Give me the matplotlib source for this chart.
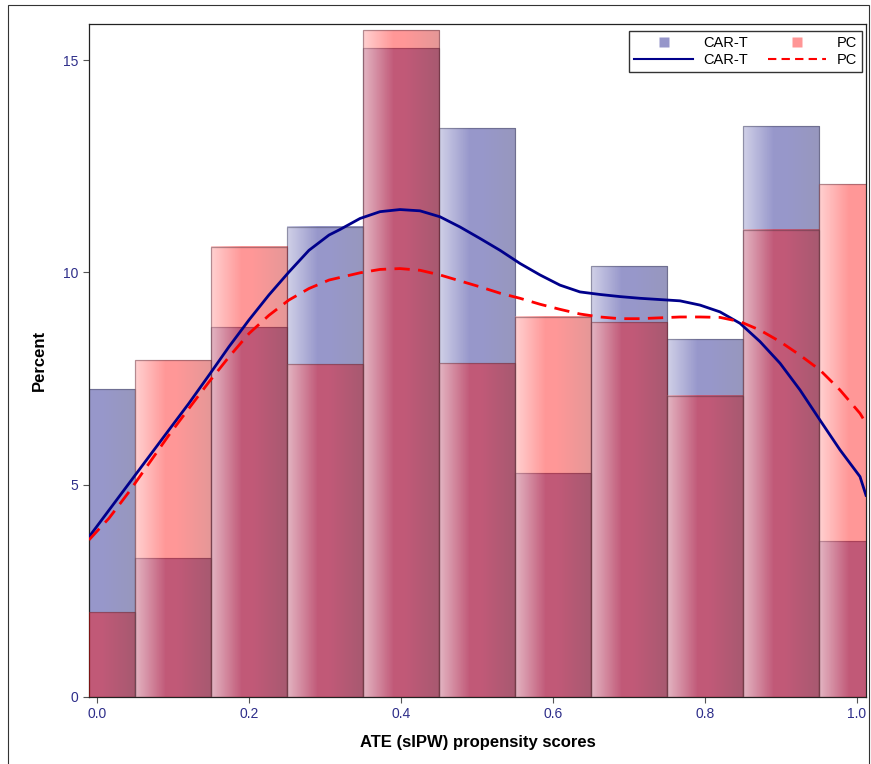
import numpy as np
import matplotlib
matplotlib.use("Agg")
import matplotlib.pyplot as plt
from matplotlib.patches import Rectangle
from matplotlib.lines import Line2D

plt.rcParams['font.family'] = ['Liberation Sans', 'DejaVu Sans']

# ---- data ----
bin_centers = [0.0, 0.1, 0.2, 0.3, 0.4, 0.5, 0.6, 0.7, 0.8, 0.9, 1.0]
cart_pct = [7.25, 3.27, 8.71, 11.07, 15.28, 13.40, 5.27, 10.15, 8.43, 13.44, 3.67]
pc_pct = [2.00, 7.93, 10.60, 7.84, 15.70, 7.86, 8.95, 8.83, 7.09, 11.00, 12.08]

kde_x = [-0.0105, 0.0158, 0.0421, 0.0684, 0.0947, 0.1211, 0.1474, 0.1737,
         0.2000, 0.2263, 0.2526, 0.2789, 0.3053, 0.3197, 0.3461, 0.3724,
         0.3987, 0.4250, 0.4513, 0.4776, 0.5039, 0.5303, 0.5566, 0.5829,
         0.6092, 0.6355, 0.6618, 0.6882, 0.7145, 0.7408, 0.7671, 0.7934,
         0.8197, 0.8461, 0.8724, 0.8987, 0.9250, 0.9513, 0.9776, 1.0039,
         1.0118]
cart_kde_y = [3.77, 4.40, 5.03, 5.66, 6.29, 6.92, 7.58, 8.25,
              8.88, 9.47, 10.01, 10.52, 10.88, 11.01, 11.27, 11.43,
              11.48, 11.45, 11.31, 11.07, 10.80, 10.52, 10.21, 9.94,
              9.70, 9.54, 9.48, 9.43, 9.39, 9.36, 9.33, 9.23,
              9.07, 8.80, 8.37, 7.86, 7.23, 6.52, 5.82, 5.19,
              4.75]
pc_kde_y = [3.70, 4.21, 4.83, 5.50, 6.17, 6.80, 7.42, 8.01,
            8.56, 8.99, 9.35, 9.62, 9.82, 9.88, 9.99, 10.07,
            10.09, 10.05, 9.94, 9.80, 9.66, 9.51, 9.39, 9.25,
            9.13, 9.02, 8.95, 8.91, 8.91, 8.93, 8.95, 8.95,
            8.94, 8.84, 8.64, 8.37, 8.05, 7.70, 7.23, 6.68,
            6.45]

x_ticks = [0.0, 0.2, 0.4, 0.6, 0.8, 1.0]
x_tick_labels = ["0.0", "0.2", "0.4", "0.6", "0.8", "1.0"]
y_ticks = [0, 5, 10, 15]
series_names = ["CAR-T", "PC"]

# ---- style ----
W, H = 871, 764
fig = plt.figure(figsize=(W / 100, H / 100), dpi=100)
ax = fig.add_axes([89 / W, 1 - 697 / H, (866 - 89) / W, (697 - 24) / H])
xlim = (-0.0105, 1.0118)
ylim = (0, 15.85)

cart_color = np.array([0.0, 0.0, 0.5])
pc_color = np.array([1.0, 0.0, 0.0])
alpha = 0.41
tick_color = '#2E2E8A'


def gradient_bars(bars, base, z):
    n = 64
    t = np.linspace(0, 1, n)
    light = np.clip(0.55 * (1 - t / 0.4), 0, None)
    dark = np.clip((t - 0.55) / 0.45, 0, None) * 0.25
    rgb = base[None, :] * (1 - light[:, None]) + light[:, None]
    rgb = rgb * (1 - dark[:, None])
    for b in bars:
        x0, y0, w, h = b.get_x(), b.get_y(), b.get_width(), b.get_height()
        x1 = x0 + w
        i0 = int(round((max(x0, xlim[0]) - x0) / w * (n - 1)))
        i1 = int(round((min(x1, xlim[1]) - x0) / w * (n - 1)))
        img = np.zeros((1, i1 - i0 + 1, 4))
        img[0, :, :3] = rgb[i0:i1 + 1]
        img[0, :, 3] = alpha
        ax.imshow(img, extent=(max(x0, xlim[0]), min(x1, xlim[1]), y0, y0 + h),
                  aspect='auto', interpolation='bilinear', zorder=z)


bw = 0.1
bars_c = ax.bar(bin_centers, cart_pct, width=bw, facecolor='none',
                edgecolor=(0.25, 0.25, 0.35, 0.45), linewidth=0.9, zorder=2.5)
gradient_bars(bars_c, cart_color, 2)
bars_p = ax.bar(bin_centers, pc_pct, width=bw, facecolor='none',
                edgecolor=(0.35, 0.2, 0.25, 0.45), linewidth=0.9, zorder=3.5)
gradient_bars(bars_p, pc_color, 3)

ax.plot(kde_x, cart_kde_y, color='#00008B', lw=2.0, zorder=5,
        solid_joinstyle='round')
ax.plot(kde_x, pc_kde_y, color='#FF0000', lw=2.0, ls=(0, (5.5, 3)), zorder=5)

ax.set_xlim(*xlim)
ax.set_ylim(*ylim)
ax.set_xticks(x_ticks)
ax.set_xticklabels(x_tick_labels)
ax.set_yticks(y_ticks)
ax.tick_params(axis='both', colors='#555555', labelcolor=tick_color,
               labelsize=10, length=4, width=0.8, direction='out')
for s in ax.spines.values():
    s.set_color('#222222')
    s.set_linewidth(0.9)

ax.set_xlabel('ATE (sIPW) propensity scores', fontsize=12, fontweight='bold',
              labelpad=10)
ax.set_ylabel('Percent', fontsize=12, fontweight='bold', labelpad=12)

handles = [
    Line2D([], [], ls='none', marker='s', markersize=7,
           markerfacecolor=tuple(cart_color) + (alpha,), markeredgecolor='none'),
    Line2D([], [], color='#00008B', lw=1.5),
    Line2D([], [], ls='none', marker='s', markersize=7,
           markerfacecolor=tuple(pc_color) + (alpha,), markeredgecolor='none'),
    Line2D([], [], color='#FF0000', lw=1.5, ls=(0, (4, 2.5))),
]
labels = [series_names[0], series_names[0], series_names[1], series_names[1]]
leg = ax.legend(handles, labels, ncol=2, loc='upper right',
                bbox_to_anchor=((862 - 89) / 777, (697 - 31) / 673),
                borderaxespad=0, fancybox=False, frameon=True,
                edgecolor='black', fontsize=10.5, handlelength=4.0,
                columnspacing=1.4, handletextpad=0.7, labelspacing=0.2,
                borderpad=0.35)
leg.get_frame().set_linewidth(1.0)
leg.set_zorder(10)

# figure border
fig.patches.append(Rectangle((8 / W, -0.01), (869 - 8) / W, 1.01 - 5 / H,
                             transform=fig.transFigure, fill=False,
                             edgecolor='#333333', linewidth=0.8))

fig.savefig('out.png', dpi=100)
